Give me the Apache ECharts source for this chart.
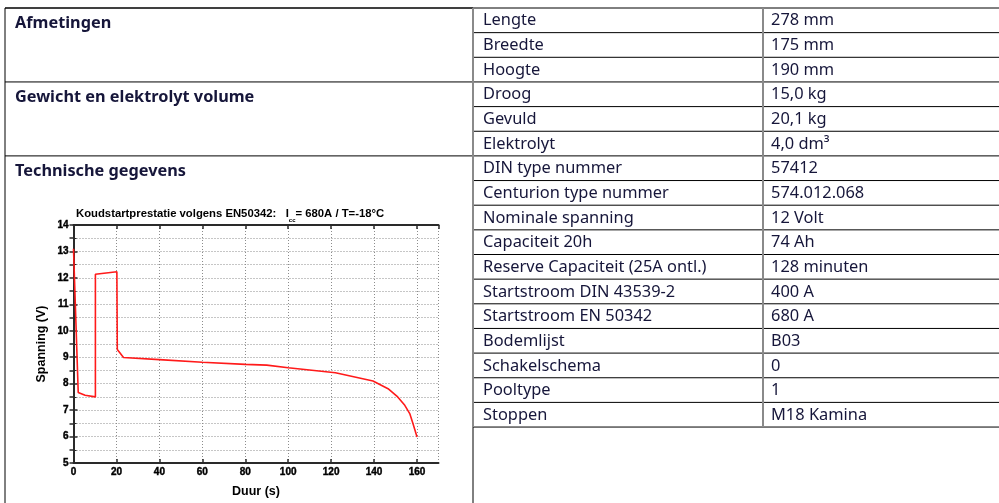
<!DOCTYPE html>
<html>
<head>
<meta charset="utf-8">
<script src="https://cdn.jsdelivr.net/npm/echarts@6/dist/echarts.min.js"></script>
<style>
html,body{margin:0;padding:0;background:#fff;}
#c{position:absolute;left:0;top:0;width:999px;height:503px;}
</style>
</head>
<body>
<div id="c"></div>
<script>
// ---- table content ----
const sectionTitles = ['Afmetingen', 'Gewicht en elektrolyt volume', 'Technische gegevens'];
const sectionStartRows = [0, 3, 6];
const specLabels = ['Lengte', 'Breedte', 'Hoogte', 'Droog', 'Gevuld', 'Elektrolyt',
  'DIN type nummer', 'Centurion type nummer', 'Nominale spanning', 'Capaciteit 20h',
  'Reserve Capaciteit (25A ontl.)', 'Startstroom DIN 43539-2', 'Startstroom EN 50342',
  'Bodemlijst', 'Schakelschema', 'Pooltype', 'Stoppen'];
const specValues = ['278 mm', '175 mm', '190 mm', '15,0 kg', '20,1 kg', '4,0 dm³',
  '57412', '574.012.068', '12 Volt', '74 Ah', '128 minuten', '400 A', '680 A',
  'B03', '0', '1', 'M18 Kamina'];

// ---- chart content ----
const chartTitleMain = 'Koudstartprestatie volgens EN50342:   I';
const chartTitleSub = 'cc';
const chartTitleEnd = '= 680A / T=-18°C';
const xAxisName = 'Duur (s)';
const yAxisName = 'Spanning (V)';
const durations = [0, 2.2, 5.4, 10.2, 10.2, 20.2, 20.4, 23.3, 40, 60, 80, 90, 100, 122, 139.5, 146.5, 151, 154.3, 156.6, 158.1, 160];
const voltages  = [13.1, 7.67, 7.56, 7.5, 12.14, 12.23, 9.29, 8.99, 8.91, 8.81, 8.73, 8.70, 8.6, 8.41, 8.1, 7.81, 7.5, 7.18, 6.87, 6.49, 5.98];

// ---- layout ----
const T = { top: 8, rowH: 24.65, left: 5, col1: 473, col2: 763, right: 999, bottom: 503 };
const textColor = '#16163a';
const gridGrey = '#8c8c8c';
const tableFont = '"Noto Sans"';

const graphics = [];
function hline(x1, x2, y, color, w) {
  graphics.push({ type: 'line', shape: { x1: x1, y1: y, x2: x2, y2: y }, style: { stroke: color, lineWidth: w }, silent: true });
}
function vline(x, y1, y2, color, w) {
  graphics.push({ type: 'line', shape: { x1: x, y1: y1, x2: x, y2: y2 }, style: { stroke: color, lineWidth: w }, silent: true });
}
const nRows = specLabels.length;
const tableEnd = T.top + nRows * T.rowH;
for (let i = 0; i <= nRows; i++) {
  hline(T.col1, T.right, T.top + i * T.rowH, '#000', 1);
}
hline(T.left, T.col1, T.top, '#000', 1);
sectionStartRows.forEach(function (r) { hline(T.left, T.col1, T.top + r * T.rowH, '#000', 1); });
vline(T.left, T.top, T.bottom, '#000', 1);
vline(T.col1, T.top, tableEnd, '#8a8a8a', 2);
vline(T.col1, tableEnd, T.bottom, '#000', 1);
vline(T.col2, T.top, tableEnd, '#8a8a8a', 2);

sectionTitles.forEach(function (s, k) {
  graphics.push({ type: 'text', silent: true, style: {
    text: s, x: 15, y: T.top + sectionStartRows[k] * T.rowH + 15.5,
    font: 'bold 16.3px ' + tableFont, fill: textColor, verticalAlign: 'middle', align: 'left' } });
});
specLabels.forEach(function (s, i) {
  const y = T.top + i * T.rowH + T.rowH / 2 + 0.5;
  graphics.push({ type: 'text', silent: true, style: {
    text: s, x: 483, y: y, font: '16.4px ' + tableFont, fill: textColor, verticalAlign: 'middle', align: 'left' } });
  graphics.push({ type: 'text', silent: true, style: {
    text: specValues[i], x: 771, y: y, font: '16.4px ' + tableFont, fill: textColor, verticalAlign: 'middle', align: 'left' } });
});

const chart = echarts.init(document.getElementById('c'), null, { renderer: 'canvas' });
const axisFont = { fontFamily: 'Liberation Sans', fontWeight: 700, fontSize: 10, color: '#000', textBorderColor: '#000', textBorderWidth: 0.4 };
const frame = { show: true, lineStyle: { color: '#2a2a2a', width: 2 } };
const dotted = { color: gridGrey, type: [1, 2], width: 1 };
chart.setOption({
  animation: false,
  backgroundColor: '#fff',
  title: {
    text: '{a|' + chartTitleMain + '}{s|' + chartTitleSub + '}{a|' + chartTitleEnd + '}',
    left: 76, top: 205, padding: 0,
    textStyle: {
      rich: {
        a: { fontFamily: 'Liberation Sans', fontWeight: 'bold', fontSize: 11.3, color: '#000', lineHeight: 18, verticalAlign: 'middle' },
        s: { fontFamily: 'Liberation Sans', fontWeight: 'bold', fontSize: 6, color: '#000', lineHeight: 18, verticalAlign: 'bottom' }
      }
    }
  },
  graphic: graphics,
  grid: { left: 73.5, top: 225, width: 365, height: 238, show: false },
  xAxis: [{
    type: 'value', min: 0, max: 170, interval: 20, position: 'bottom',
    name: xAxisName, nameLocation: 'middle', nameGap: 22,
    nameTextStyle: { fontFamily: 'Liberation Sans', fontWeight: 'bold', fontSize: 12.5, color: '#000' },
    axisLine: frame,
    axisTick: { show: true, inside: true, length: 4, lineStyle: { color: '#2a2a2a', width: 1.5 } },
    axisLabel: Object.assign({ margin: 4, showMaxLabel: false }, axisFont),
    splitLine: { show: true, lineStyle: dotted }
  }, {
    type: 'value', min: 0, max: 170, interval: 20, position: 'top',
    axisLine: frame,
    axisTick: { show: true, inside: true, length: 4, lineStyle: { color: '#2a2a2a', width: 1.5 } },
    axisLabel: { show: false }, splitLine: { show: false }
  }],
  yAxis: [{
    type: 'value', min: 5, max: 14, interval: 1, position: 'left',
    name: yAxisName, nameLocation: 'middle', nameGap: 25,
    nameTextStyle: { fontFamily: 'Liberation Sans', fontWeight: 'bold', fontSize: 12.5, color: '#000' },
    axisLine: frame,
    axisTick: { show: true, inside: true, length: 4, lineStyle: { color: '#2a2a2a', width: 1.5 } },
    minorTick: { show: true, splitNumber: 2, length: 3, lineStyle: { color: '#2a2a2a', width: 1 } },
    axisLabel: Object.assign({ margin: 5 }, axisFont),
    splitLine: { show: true, lineStyle: dotted },
    minorSplitLine: { show: true, lineStyle: dotted }
  }, {
    type: 'value', min: 5, max: 14, interval: 1, position: 'right',
    axisLine: frame,
    axisTick: { show: true, inside: true, length: 4, lineStyle: { color: '#2a2a2a', width: 1.5 } },
    minorTick: { show: true, splitNumber: 2, length: 4, lineStyle: { color: '#2a2a2a', width: 1.5 } },
    axisLabel: { show: false }, splitLine: { show: false }
  }],
  series: [{
    type: 'line', xAxisIndex: 0, yAxisIndex: 0, showSymbol: false, symbol: 'none',
    lineStyle: { color: '#ff1a1a', width: 1.6 },
    data: durations.map(function (d, i) { return [d, voltages[i]]; })
  }]
});
</script>
</body>
</html>
